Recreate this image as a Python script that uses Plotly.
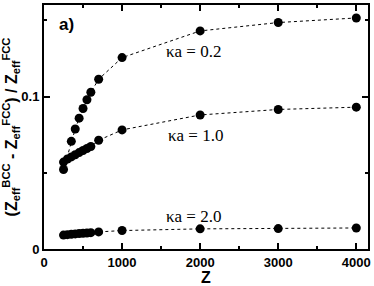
import plotly.graph_objects as go

# Data
z_k02 = [250, 350, 400, 450, 500, 550, 600, 700, 1000, 2000, 3000, 4000]
v_k02 = [0.0521, 0.0706, 0.0787, 0.0858, 0.0921, 0.0979, 0.1028, 0.1113, 0.1255, 0.1430, 0.1485, 0.1515]

z_k10 = [250, 300, 350, 400, 450, 500, 550, 600, 700, 1000, 2000, 3000, 4000]
v_k10 = [0.0570, 0.0590, 0.0604, 0.0618, 0.0632, 0.0646, 0.0659, 0.0672, 0.0713, 0.0781, 0.0879, 0.0915, 0.0930]

z_k20 = [250, 300, 350, 400, 450, 500, 550, 600, 700, 1000, 2000, 3000, 4000]
v_k20 = [0.0091, 0.0094, 0.0097, 0.0099, 0.0101, 0.0103, 0.0105, 0.0107, 0.0112, 0.0121, 0.0132, 0.0134, 0.0138]

labels = ["\u03baa = 0.2", "\u03baa = 1.0", "\u03baa = 2.0"]
label_x = [1915, 1935, 1915]
label_y = [0.1298, 0.0743, 0.0213]

x_ticks = [0, 1000, 2000, 3000, 4000]
y_ticks = [0, 0.1]

fig = go.Figure()
for zs, vs in [(z_k02, v_k02), (z_k10, v_k10), (z_k20, v_k20)]:
    fig.add_trace(go.Scatter(
        x=zs, y=vs, mode="lines+markers",
        line=dict(color="black", width=1, dash="dot"),
        marker=dict(color="black", size=9),
        showlegend=False,
    ))

for t, x, y in zip(labels, label_x, label_y):
    fig.add_annotation(x=x, y=y, text=t, showarrow=False,
                       font=dict(family="Liberation Serif", size=17, color="black"))

fig.add_annotation(x=0.07, y=0.92, xref="paper", yref="paper", text="a)",
                   showarrow=False, xanchor="center", yanchor="middle",
                   font=dict(family="Liberation Sans", size=17, color="black", weight="bold"))

axis_common = dict(
    showline=True, linecolor="black", linewidth=2, mirror="allticks",
    ticks="inside", tickcolor="black", tickwidth=2, ticklen=6,
    showgrid=False, zeroline=False,
    tickfont=dict(family="Liberation Sans", size=13, color="black", weight="bold"),
)

fig.update_xaxes(
    range=[0, 4150], tickmode="array", tickvals=x_ticks,
    ticktext=[str(v) for v in x_ticks],
    minor=dict(dtick=500, tick0=0, ticks="inside", ticklen=3, tickwidth=2, tickcolor="black"),
    title=dict(text="Z", standoff=2,
               font=dict(family="Liberation Sans", size=16, color="black", weight="bold")),
    **axis_common,
)
fig.update_yaxes(
    range=[0, 0.16], tickmode="array", tickvals=y_ticks,
    ticktext=["0", "0.1"],
    minor=dict(dtick=0.05, tick0=0, ticks="inside", ticklen=3, tickwidth=2, tickcolor="black"),
    title=dict(text="(Z<sub>eff</sub><sup>BCC</sup> - Z<sub>eff</sub><sup>FCC</sup>) / Z<sub>eff</sub><sup>FCC</sup>",
               standoff=4,
               font=dict(family="Liberation Sans", size=16, color="black", weight="bold")),
    **axis_common,
)

fig.update_layout(
    width=374, height=286,
    margin=dict(l=44, r=6, t=3, b=33),
    plot_bgcolor="white", paper_bgcolor="white",
)

fig.write_html("out.html", config={"displayModeBar": False},
               post_script="document.body.style.margin='0';")
